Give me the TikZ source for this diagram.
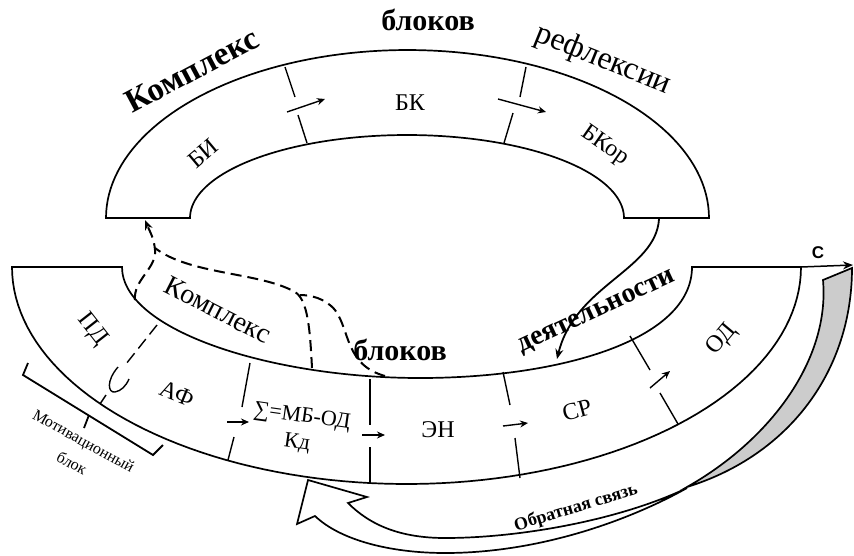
\documentclass[tikz,border=0pt]{standalone}
\usepackage{fontspec}
\setmainfont{Liberation Serif}
\newfontfamily\sansf{Liberation Sans}
\usetikzlibrary{arrows.meta}
\begin{document}
\begin{tikzpicture}[x=1pt,y=-1pt,
  band/.style={draw=black, line width=1.7pt, fill=white},
  lab/.style={font=\fontsize{24}{24}\selectfont, inner sep=0pt},
  slab/.style={font=\fontsize{22}{22}\selectfont, inner sep=0pt},
  headb/.style={font=\fontsize{30}{30}\selectfont\bfseries, inner sep=0pt},
  headr/.style={font=\fontsize{30}{30}\selectfont, inner sep=0pt},
  div/.style={line width=1.4pt},
  dashdiv/.style={line width=1.4pt, dash pattern=on 12pt off 6pt},
  sarrow/.style={-{Stealth[length=8pt,width=7pt]}, line width=1.4pt},
  dline/.style={dash pattern=on 11pt off 6pt, line width=2pt},
  grey/.style={fill=black!20, draw=black, line width=1.7pt}
]
\useasboundingbox (0,0) rectangle (854,555);

% ---------- top arch ----------
\draw[band] plot[domain=0:180,samples=90] ({407.5-301.5*cos(\x)},{218-168*sin(\x)})
  -- (624,218) -- plot[domain=0:180,samples=90] ({407+217*cos(\x)},{218-83*sin(\x)}) -- cycle;

% dividers of the top arch
\draw[div] (285,67) -- (295,97);
\draw[div] (298,115) -- (307,143);
\draw[sarrow] (287,112) -- (325,99);
\draw[div] (526,67) -- (520,97);
\draw[div] (513,113) -- (504,143);
\draw[sarrow] (498,99) -- (546,112);

% ---------- feedback arrow ----------
\draw[grey] (852,268) .. controls (852,370) and (790,455) .. (687,487)
  .. controls (770,440) and (830,360) .. (823,280) -- cycle;
\draw[fill=white, line width=1.7pt, line join=miter]
  (687,488) .. controls (620,520) and (520,538) .. (445,538)
  .. controls (400,538) and (370,525) .. (348,503)
  -- (367,497) -- (308,480) -- (297,524) -- (315,516)
  .. controls (340,540) and (390,553) .. (445,553)
  .. controls (540,553) and (630,520) .. (687,488);

% ---------- lower band ----------
\draw[band] plot[domain=0:180,samples=90] ({406.5-394.5*cos(\x)},{267+217*sin(\x)})
  -- (692,267) .. controls (692,340) and (560,378) .. (420,378)
  .. controls (270,378) and (122,330) .. (122,267) -- cycle;

% dividers of the lower band
\draw[dashdiv] (157,325) -- (126,364);
\draw[div] (118,367) .. controls (106,381) and (108,393) .. (115,392)
  .. controls (121,391) and (126,386) .. (129,379);
\draw[div] (106,395) -- (100,404);
\draw[div] (250,363) -- (242,407);
\draw[sarrow] (227,422) -- (249,422);
\draw[div] (234,437) -- (228,460);
\draw[div] (370,379) -- (370,425);
\draw[sarrow] (362,435) -- (385,435);
\draw[div] (370,447) -- (370,484);
\draw[div] (503,372) -- (510,405);
\draw[sarrow] (503,426) -- (528,423);
\draw[div] (515,438) -- (520,478);
\draw[div] (630,336) -- (650,370);
\draw[sarrow] (650,388) -- (670,371);
\draw[div] (660,393) -- (678,424);

% bracket "motivational block"
\draw[line width=1.8pt] (28,363) -- (23,375) -- (153,455) -- (163,445);
\draw[line width=1.8pt] (89,415) -- (84,428);

% ---------- connectors ----------
\coordinate (pdA) at (135,300);
\coordinate (biIn) at (145,220);
\coordinate (sumT) at (312,368);
\coordinate (enT) at (385,376);
\coordinate (bkorB) at (659,219);
\coordinate (srT) at (557,359);
\coordinate (odC) at (801,267);
\coordinate (cEnd) at (853,265);

\draw[dline, -{Stealth[length=10pt,width=8pt]}] (pdA) .. controls (133,280) and (157,268) .. (155,250)
  .. controls (154,238) and (150,232) .. (biIn);
\draw[dline] (sumT) .. controls (310,330) and (308,300) .. (295,292)
  .. controls (260,272) and (190,275) .. (155,248);
\draw[dline] (enT) .. controls (345,365) and (350,330) .. (335,310)
  .. controls (325,298) and (310,295) .. (300,295);
\draw[line width=1.8pt, -{Stealth[length=10pt,width=8pt]}] (bkorB) .. controls (656,270) and (575,285) .. (srT);
\draw[line width=1.5pt, -{Stealth[length=10pt,width=8pt]}] (odC) -- (cEnd);

% ---------- texts ----------
\node[headb, rotate=28, font=\fontsize{33}{33}\selectfont\bfseries] (t1) at (192,70) {Комплекс};
\node[headb] (t2) at (428,20) {блоков};
\node[headr, rotate=-22, font=\fontsize{32}{32}\selectfont] (t3) at (603,60) {рефлексии};
\node[lab, rotate=40] (bi) at (203,153) {БИ};
\node[lab] (bk) at (410,103) {БК};
\node[lab, rotate=-35] (bkor) at (605,146) {БКор};

\node[headr, rotate=-27, font=\fontsize{28}{28}\selectfont] (t4) at (218,310) {Комплекс};
\node[headb] (t5) at (400,350) {блоков};
\node[headb, rotate=25, font=\fontsize{28}{28}\selectfont\bfseries] (t6) at (597,313) {деятельности};

\node[lab, rotate=-52] (pd) at (92,330) {ПД};
\node[lab, rotate=-22] (af) at (177,394) {АФ};
\node[slab, rotate=-8] (sum) at (302,417) {∑=МБ-ОД};
\node[slab, rotate=-8] (kd) at (297,443) {Кд};
\node[lab] (en) at (438,430) {ЭН};
\node[lab, rotate=15] (sr) at (577,410) {СР};
\node[lab, rotate=50] (od) at (722,340) {ОД};

\node[font=\fontsize{16}{16}\selectfont, rotate=-29, inner sep=0pt] (mb1) at (83,442) {Мотивационный};
\node[font=\fontsize{16}{16}\selectfont, rotate=-29, inner sep=0pt] (mb2) at (72,463) {блок};
\node[font=\fontsize{18}{18}\selectfont\bfseries, rotate=17, inner sep=0pt] (fb) at (576,508) {Обратная связь};
\node[font=\sansf\fontsize{17}{17}\selectfont\bfseries, inner sep=0pt] (c) at (818,253) {С};
\end{tikzpicture}
\end{document}
